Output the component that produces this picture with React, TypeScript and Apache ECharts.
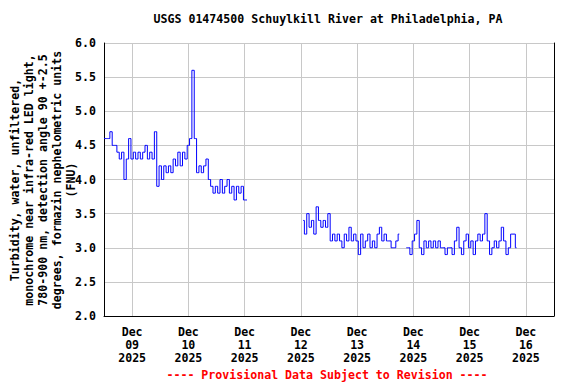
import React, { useEffect, useRef } from "react";
import * as echarts from "echarts";

const TITLE = "USGS 01474500 Schuylkill River at Philadelphia, PA";
const FOOTER = "---- Provisional Data Subject to Revision ----";
const Y_NAME_LINES = [
  "Turbidity, water, unfiltered,",
  "monochrome near infra-red LED light,",
  "780-900 nm, detection angle 90 +-2.5",
  "degrees, formazin nephelometric units",
  "(FNU)",
];
const MONTH_LABEL = "Dec";
const YEAR_LABEL = "2025";

// hourly readings, segment 1 starts Dec 08 12:00 (hour 0)
const SEG1_START_HOUR = 0;
const seg1Values = [
  4.6, 4.6, 4.6, 4.7, 4.5, 4.5, 4.4, 4.3, 4.4, 4.0,
  4.3, 4.6, 4.3, 4.4, 4.3, 4.4, 4.3, 4.4, 4.5, 4.3,
  4.4, 4.3, 4.7, 3.9, 4.2, 4.0, 4.2, 4.1, 4.2, 4.1,
  4.3, 4.2, 4.4, 4.2, 4.4, 4.3, 4.5, 4.6, 5.6, 4.6,
  4.1, 4.2, 4.1, 4.2, 4.3, 4.0, 3.9, 3.8, 3.9, 3.8,
  4.0, 3.8, 3.9, 4.0, 3.8, 3.9, 3.7, 3.9, 3.8, 3.9,
  3.7, 3.7,
];
// segment 2 starts Dec 12 01:00 (hour 85)
const SEG2_START_HOUR = 85;
const seg2Values = [
  3.4, 3.2, 3.5, 3.3, 3.4, 3.2, 3.6, 3.4, 3.3, 3.4,
  3.3, 3.5, 3.1, 3.2, 3.1, 3.2, 3.1, 3.0, 3.2, 3.1,
  3.3, 3.1, 3.2, 3.1, 2.9, 3.2, 3.0, 3.1, 3.2, 3.0,
  3.1, 3.0, 3.2, 3.3, 3.1, 3.2, 3.1, 3.1, 3.0, 3.0,
  3.1, 3.2,
];
// segment 3 starts Dec 13 21:00 (hour 129)
const SEG3_START_HOUR = 129;
const seg3Values = [
  3.0, 3.0, 2.9, 3.1, 3.2, 3.4,
  3.0, 2.9, 3.1, 3.0, 3.1, 3.0, 3.1, 3.0, 3.1, 3.0,
  3.0, 2.9, 3.0, 3.0, 2.9, 3.1, 3.3, 3.0, 2.9, 3.1,
  3.2, 3.0, 3.1, 2.9, 3.1, 3.2, 3.1, 3.2, 3.5, 3.1,
  2.9, 3.0, 3.1, 3.0, 3.1, 3.3, 3.1, 2.9, 3.0, 3.2,
  3.2, 3.0,
];

const Y_MIN = 2;
const Y_MAX = 6;
const Y_STEP = 0.5;

const FONT = "'DejaVu Sans Mono', 'Liberation Mono', monospace";

export default function App() {
  const ref = useRef<HTMLDivElement>(null);
  useEffect(() => {
    if (!ref.current) return;
    const chart = echarts.init(ref.current, undefined, { renderer: "svg" });
    const base = new Date(2025, 11, 8, 12, 0, 0).getTime();
    const H = 3600 * 1000;
    const toPairs = (start: number, vals: number[]) =>
      vals.map((v, i) => [base + (start + i) * H, v]);

    const segments = [
      toPairs(SEG1_START_HOUR, seg1Values),
      toPairs(SEG2_START_HOUR, seg2Values),
      toPairs(SEG3_START_HOUR, seg3Values),
    ];

    const minT = base;
    const maxT = base + 192 * H;

    chart.setOption({
      animation: false,
      backgroundColor: "#ffffff",
      graphic: [
        {
          type: "text",
          x: 328,
          y: 19,
          style: {
            text: TITLE,
            fontFamily: FONT,
            fontSize: 11.6,
            fontWeight: "bold",
            align: "center",
            verticalAlign: "middle",
            fill: "#000",
          },
        },
        {
          type: "text",
          x: 43,
          y: 180,
          rotation: Math.PI / 2,
          style: {
            text: Y_NAME_LINES.join("\n"),
            fontFamily: FONT,
            fontSize: 11.6,
            fontWeight: "bold",
            lineHeight: 14,
            align: "center",
            verticalAlign: "middle",
            fill: "#000",
          },
        },
        {
          type: "text",
          x: 327,
          y: 375,
          style: {
            text: FOOTER,
            fontFamily: FONT,
            fontSize: 11.6,
            fontWeight: "bold",
            align: "center",
            verticalAlign: "middle",
            fill: "#ff0000",
          },
        },
      ],
      grid: { left: 104, right: 22, top: 43, bottom: 68, containLabel: false },
      xAxis: {
        type: "time",
        min: minT,
        max: maxT,
        minInterval: 24 * H,
        maxInterval: 24 * H,
        axisLine: { show: true, lineStyle: { color: "#000", width: 1 } },
        axisTick: { show: false },
        splitLine: { show: true, lineStyle: { color: "#c8c8c8", width: 1 } },
        axisLabel: {
          showMinLabel: false,
          showMaxLabel: false,
          margin: 9,
          fontFamily: FONT,
          fontSize: 11.6,
          fontWeight: "bold",
          color: "#000",
          lineHeight: 13,
          formatter: (val: number) => {
            const d = new Date(val);
            if (d.getHours() !== 0) return "";
            return `${MONTH_LABEL}\n${String(d.getDate()).padStart(2, "0")}\n${YEAR_LABEL}`;
          },
        },
      },
      yAxis: [
        {
          type: "value",
          min: Y_MIN,
          max: Y_MAX,
          interval: Y_STEP,
          axisLine: { show: true, lineStyle: { color: "#000", width: 1 } },
          axisTick: { show: false },
          splitLine: { show: true, lineStyle: { color: "#c8c8c8", width: 1 } },
          axisLabel: {
            margin: 8,
            fontFamily: FONT,
            fontSize: 11.6,
            fontWeight: "bold",
            color: "#000",
            formatter: (v: number) => v.toFixed(1),
          },
        },
        {
          type: "value",
          position: "right",
          min: Y_MIN,
          max: Y_MAX,
          interval: Y_STEP,
          axisLine: { show: true, lineStyle: { color: "#000", width: 1 } },
          axisTick: { show: false },
          axisLabel: { show: false },
          splitLine: { show: false },
        },
      ],
      series: segments.map((seg) => ({
        type: "line",
        data: seg,
        step: "middle",
        showSymbol: false,
        lineStyle: { color: "#0000ff", width: 1 },
        itemStyle: { color: "#0000ff" },
      })),
    });
    return () => chart.dispose();
  }, []);
  return (
    <div
      ref={ref}
      style={{ position: "absolute", left: 0, top: 0, width: 576, height: 384 }}
    />
  );
}
